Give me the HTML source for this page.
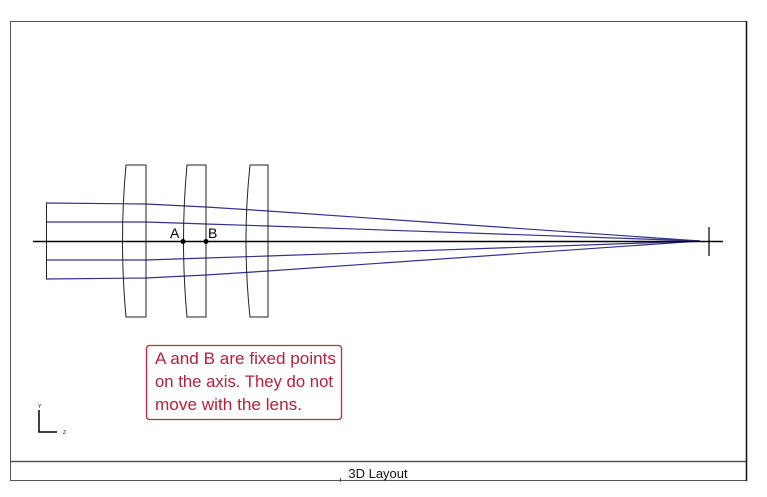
<!DOCTYPE html>
<html><head><style>
body{margin:0;background:#fff;width:767px;height:492px;overflow:hidden;font-family:"Liberation Sans",sans-serif}
</style></head><body>
<svg width="767" height="492" xmlns="http://www.w3.org/2000/svg">
<rect x="10.5" y="21.5" width="736" height="459" fill="#fff" stroke="#555" stroke-width="1"/>
<line x1="10" y1="461.5" x2="747" y2="461.5" stroke="#555" stroke-width="1.5"/>
<line x1="746.5" y1="21" x2="746.5" y2="481" stroke="#111" stroke-width="1.5"/>
<line x1="340.5" y1="478" x2="340.5" y2="482" stroke="#555"/>
<text x="378" y="478" font-size="13" text-anchor="middle" fill="#111">3D Layout</text>
<g fill="none" stroke="#32328f" stroke-width="1.2">
<polyline points="46,203 146,204 206,207 268,211 700,241"/>
<polyline points="46,222 146,222 206,224 268,226 700,241"/>
<polyline points="46,260 146,260 206,258 268,256 700,241"/>
<polyline points="46,279 146,278 206,275 268,271 700,241"/>
</g>
<line x1="46.5" y1="203" x2="46.5" y2="279" stroke="#222" stroke-width="1"/>
<g fill="none" stroke="#222" stroke-width="1">
<path d="M126,165 Q119,241 126,317 L146,317 L146,165 Z"/>
<path d="M187,165 Q180,241 187,317 L206,317 L206,165 Z"/>
<path d="M250,165 Q242,241 250,317 L268,317 L268,165 Z"/>
</g>
<line x1="33" y1="241.5" x2="723" y2="241.5" stroke="#000" stroke-width="1.5"/>
<line x1="709" y1="227" x2="709" y2="256" stroke="#000" stroke-width="1.2"/>
<circle cx="183" cy="241.5" r="2.5" fill="#000"/>
<circle cx="206" cy="241.5" r="2.5" fill="#000"/>
<text x="170" y="238" font-size="14" fill="#000">A</text>
<text x="208" y="238" font-size="14" fill="#000">B</text>
<rect x="146.5" y="345.5" width="195" height="74" rx="3" fill="#fff" stroke="#c4283a" stroke-width="1.3"/>
<g font-size="16.5" fill="#b5213a">
<text x="155" y="364" textLength="181" lengthAdjust="spacingAndGlyphs">A and B are fixed points</text>
<text x="155" y="387" textLength="178" lengthAdjust="spacingAndGlyphs">on the axis. They do not</text>
<text x="155" y="410" textLength="147" lengthAdjust="spacingAndGlyphs">move with the lens.</text>
</g>
<path d="M39,410 L39,432 L57,432" fill="none" stroke="#000" stroke-width="1.5"/>
<text x="38" y="408" font-size="5" fill="#000">Y</text>
<text x="63" y="434" font-size="5" fill="#000">Z</text>
</svg>
</body></html>
